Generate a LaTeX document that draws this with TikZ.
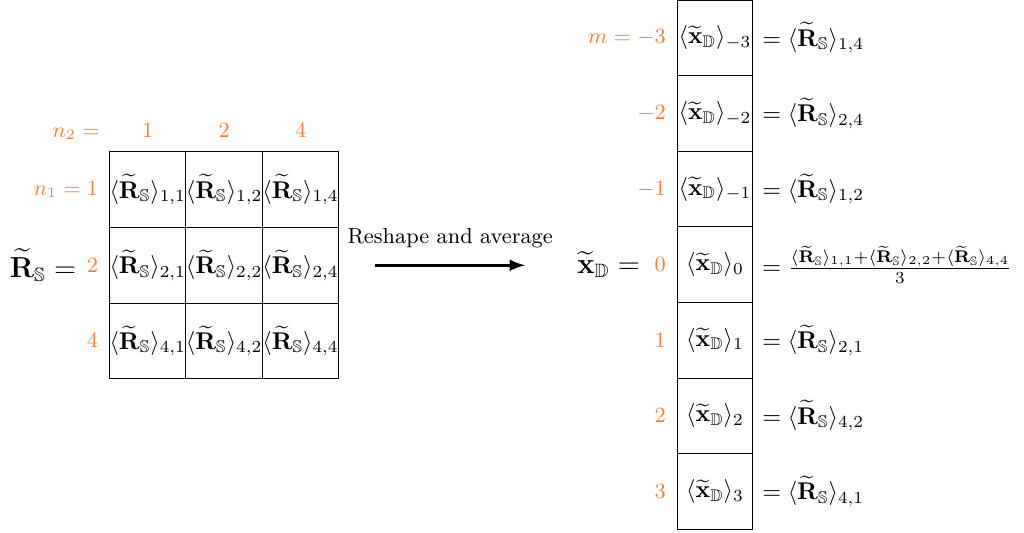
\documentclass[tikz,border=0pt]{standalone}
\usepackage{amsmath,amssymb}
\usetikzlibrary{positioning}

\definecolor{idxorange}{RGB}{242,128,56}
\newcommand{\Rs}{\widetilde{\mathbf{R}}_{\mathbb{S}}}
\newcommand{\xd}{\widetilde{\mathbf{x}}_{\mathbb{D}}}

\begin{document}
\begin{tikzpicture}[
    cell/.style={rectangle, draw, minimum width=1.1cm, minimum height=1.1cm, inner sep=0pt, outer sep=0pt},
    idx/.style={text=idxorange, inner sep=0pt, font=\small},
    eqn/.style={inner sep=0pt},
    arrow/.style={->, >=latex, line width=1.2pt}
]
\useasboundingbox (0,0) rectangle (14.9,-7.755);

% Matrix R_S
\node[cell] (r11) at (2.15,-2.76) {$\langle\Rs\rangle_{1,1}$};
\node[cell, right=0pt of r11] (r12) {$\langle\Rs\rangle_{1,2}$};
\node[cell, right=0pt of r12] (r14) {$\langle\Rs\rangle_{1,4}$};
\node[cell, below=0pt of r11] (r21) {$\langle\Rs\rangle_{2,1}$};
\node[cell, right=0pt of r21] (r22) {$\langle\Rs\rangle_{2,2}$};
\node[cell, right=0pt of r22] (r24) {$\langle\Rs\rangle_{2,4}$};
\node[cell, below=0pt of r21] (r41) {$\langle\Rs\rangle_{4,1}$};
\node[cell, right=0pt of r41] (r42) {$\langle\Rs\rangle_{4,2}$};
\node[cell, right=0pt of r42] (r44) {$\langle\Rs\rangle_{4,4}$};

% Column indices
\node[idx, above=0.2cm of r11] (c1) {$1$};
\node[idx, above=0.2cm of r12] (c2) {$2$};
\node[idx, above=0.2cm of r14] (c4) {$4$};
\node[idx, anchor=east] (n2) at (1.455,-1.95) {$n_2=$};

% Row indices
\node[idx, left=0.16cm of r11] (n1) {$n_1=1$};
\node[idx, left=0.16cm of r21] (l2) {$2$};
\node[idx, left=0.16cm of r41] (l4) {$4$};

% Matrix name
\node[eqn, left=0.14cm of l2, font=\large] (rname) {$\Rs=$};

% Reshape arrow
\coordinate (arrstart) at (5.46,-3.86);
\coordinate (arrend) at (7.64,-3.86);
\draw[arrow] (arrstart) -- (arrend) node[midway, above=0.12cm, font=\small] {Reshape and average};

% Vector x_D
\node[cell] (xm3) at (10.405,-0.55) {$\langle\xd\rangle_{-3}$};
\node[cell, below=0pt of xm3] (xm2) {$\langle\xd\rangle_{-2}$};
\node[cell, below=0pt of xm2] (xm1) {$\langle\xd\rangle_{-1}$};
\node[cell, below=0pt of xm1] (x0) {$\langle\xd\rangle_{0}$};
\node[cell, below=0pt of x0] (x1) {$\langle\xd\rangle_{1}$};
\node[cell, below=0pt of x1] (x2) {$\langle\xd\rangle_{2}$};
\node[cell, below=0pt of x2] (x3) {$\langle\xd\rangle_{3}$};

% Vector indices
\node[idx, left=0.16cm of xm3] (mm3) {$m=-3$};
\node[idx, left=0.16cm of xm2] (mm2) {$-2$};
\node[idx, left=0.16cm of xm1] (mm1) {$-1$};
\node[idx, left=0.16cm of x0] (m0) {$0$};
\node[idx, left=0.16cm of x1] (m1) {$1$};
\node[idx, left=0.16cm of x2] (m2) {$2$};
\node[idx, left=0.16cm of x3] (m3) {$3$};

% Vector name
\node[eqn, left=0.2cm of m0, font=\large] (xname) {$\xd=$};

% Entries
\node[eqn, right=0.13cm of xm3] (em3) {$=\langle\Rs\rangle_{1,4}$};
\node[eqn, right=0.13cm of xm2] (em2) {$=\langle\Rs\rangle_{2,4}$};
\node[eqn, right=0.13cm of xm1] (em1) {$=\langle\Rs\rangle_{1,2}$};
\node[eqn, right=0.13cm of x0] (e0) {$=\frac{\langle\Rs\rangle_{1,1}+\langle\Rs\rangle_{2,2}+\langle\Rs\rangle_{4,4}}{3}$};
\node[eqn, right=0.13cm of x1] (e1) {$=\langle\Rs\rangle_{2,1}$};
\node[eqn, right=0.13cm of x2] (e2) {$=\langle\Rs\rangle_{4,2}$};
\node[eqn, right=0.13cm of x3] (e3) {$=\langle\Rs\rangle_{4,1}$};

\end{tikzpicture}
\end{document}
